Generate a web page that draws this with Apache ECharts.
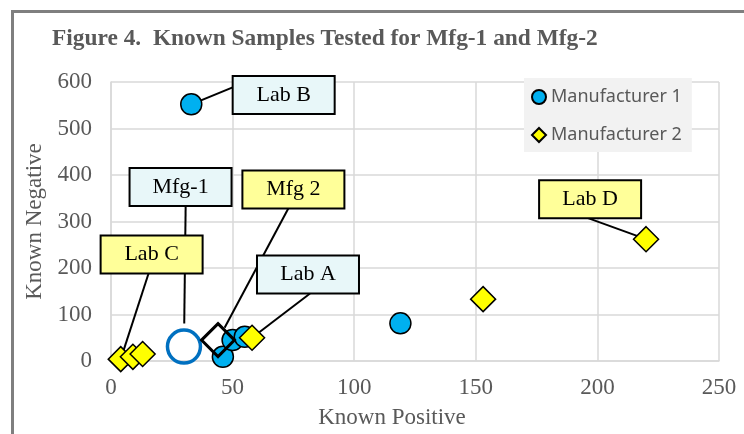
<!DOCTYPE html>
<html>
<head>
<meta charset="utf-8">
<script src="https://cdn.jsdelivr.net/npm/echarts@6/dist/echarts.min.js"></script>
<style>
html,body{margin:0;padding:0;background:#fff;}
#chart{width:744px;height:434px;}
</style>
</head>
<body>
<div id="chart"></div>
<script>
// ---- data ----
const titleText = 'Figure 4.  Known Samples Tested for Mfg-1 and Mfg-2';
const xName = 'Known Positive';
const yName = 'Known Negative';
const seriesNames = ['Manufacturer 1', 'Manufacturer 2'];
const mfg1Points = [[33, 552], [119, 81], [46, 9], [50, 45], [55, 52]];
const mfg2Points = [[4, 4], [9, 9], [13, 15], [58, 50], [153, 133], [220, 262]];
const mfg1Average = [[30, 31]];
const mfg2Average = [[44, 45]];
// callouts: label, box centre (data units), target point (data units)
const calloutLabels = ['Lab B', 'Mfg-1', 'Mfg 2', 'Lab C', 'Lab A', 'Lab D'];
const calloutBoxCentres = [[71, 572], [28.6, 374], [75, 369], [16.7, 229], [81, 186], [197, 348]];
const calloutTargets = [[33, 552], [30, 31], [44, 45], [4, 4], [58, 50], [220, 262]];

// ---- styles ----
const calloutFill = ['#E8F7F9', '#E8F7F9', '#FFFF99', '#FFFF99', '#E8F7F9', '#FFFF99'];
const calloutAnchor = [[0, 0.3], [0.55, 1], [0.45, 1], [0.47, 1], [0.52, 1], [0.48, 1]];
const calloutGap = [0, 23, 14, 0, 0, 0];
const serif = '"Liberation Serif", "Times New Roman", serif';
const grey = '#595959';

const chart = echarts.init(document.getElementById('chart'));
chart.setOption({
  animation: false,
  backgroundColor: '#fff',
  title: {
    text: titleText, left: 52, top: 27, padding: 0,
    textStyle: {fontFamily: serif, fontWeight: 'bold', fontSize: 23.4, color: grey}
  },
  legend: {
    orient: 'vertical', left: 524, top: 78,
    backgroundColor: '#F2F2F2',
    padding: [9, 10, 7, 7],
    itemWidth: 14, itemHeight: 14, itemGap: 18,
    textStyle: {fontFamily: '"Noto Sans", sans-serif', fontSize: 18, color: grey, lineHeight: 20},
    data: [{name: seriesNames[0], icon: 'circle'}, {name: seriesNames[1], icon: 'diamond'}]
  },
  grid: {left: 111, right: 25, top: 82, bottom: 73},
  xAxis: {
    type: 'value', min: 0, max: 250, interval: 50,
    name: xName, nameLocation: 'middle', nameGap: 45,
    nameTextStyle: {fontFamily: serif, fontSize: 23, color: grey, padding: [0, 46, 0, 0]},
    axisLine: {show: true, lineStyle: {color: '#D9D9D9', width: 1.5}},
    axisTick: {show: false},
    axisLabel: {fontFamily: serif, fontSize: 23, color: grey, margin: 15},
    splitLine: {show: true, lineStyle: {color: '#D9D9D9', width: 1.5}}
  },
  yAxis: {
    type: 'value', min: 0, max: 600, interval: 100,
    name: yName, nameLocation: 'middle', nameGap: 57, nameRotate: 90,
    nameTextStyle: {fontFamily: serif, fontSize: 23, color: grey},
    axisLine: {show: true, lineStyle: {color: '#D9D9D9', width: 1.5}},
    axisTick: {show: false},
    axisLabel: {fontFamily: serif, fontSize: 23, color: grey, margin: 19},
    splitLine: {show: true, lineStyle: {color: '#D9D9D9', width: 1.5}}
  },
  series: [
    {
      name: seriesNames[0], type: 'scatter', data: mfg1Points, symbol: 'circle', symbolSize: 21, z: 3,
      itemStyle: {color: '#00B0F0', borderColor: '#000', borderWidth: 1.5, opacity: 1}
    },
    {
      name: seriesNames[1], type: 'scatter', data: mfg2Points, symbol: 'diamond', symbolSize: 25, z: 4,
      itemStyle: {color: '#FFFF00', borderColor: '#000', borderWidth: 1.5, opacity: 1}
    },
    {
      name: 'Mfg-1 average', type: 'scatter', data: mfg1Average, symbol: 'circle', symbolSize: 33, z: 5,
      itemStyle: {color: 'rgba(0,0,0,0)', borderColor: '#0070C0', borderWidth: 3.5, opacity: 1}
    },
    {
      name: 'Mfg 2 average', type: 'scatter', data: mfg2Average, symbol: 'diamond', symbolSize: 33, z: 5,
      itemStyle: {color: 'rgba(0,0,0,0)', borderColor: '#000', borderWidth: 3, opacity: 1}
    }
  ]
});

// callout boxes and leader lines, placed through the axes
const boxW = 102, boxH = 38;
const graphics = [{
  type: 'rect', left: 10, top: 9, z: 0, silent: true,
  shape: {width: 800, height: 500},
  style: {fill: 'none', stroke: '#7F7F7F', lineWidth: 3}
}];
calloutLabels.forEach((label, i) => {
  const c = chart.convertToPixel({xAxisIndex: 0, yAxisIndex: 0}, calloutBoxCentres[i]);
  const t = chart.convertToPixel({xAxisIndex: 0, yAxisIndex: 0}, calloutTargets[i]);
  const bx = c[0] - boxW / 2, by = c[1] - boxH / 2;
  const sx = bx + calloutAnchor[i][0] * boxW, sy = by + calloutAnchor[i][1] * boxH;
  const dx = t[0] - sx, dy = t[1] - sy, len = Math.hypot(dx, dy);
  const ex = t[0] - dx / len * calloutGap[i], ey = t[1] - dy / len * calloutGap[i];
  graphics.push({
    type: 'line', z: 1, silent: true,
    shape: {x1: sx, y1: sy, x2: ex, y2: ey},
    style: {stroke: '#000', lineWidth: 2}
  });
  graphics.push({
    type: 'rect', z: 10, silent: true,
    shape: {x: bx, y: by, width: boxW, height: boxH},
    style: {fill: calloutFill[i], stroke: '#000', lineWidth: 2}
  });
  graphics.push({
    type: 'text', z: 11, silent: true,
    style: {text: label, x: c[0], y: c[1], align: 'center', verticalAlign: 'middle',
            font: '22px ' + serif, fill: '#000'}
  });
});
chart.setOption({graphic: graphics});
</script>
</body>
</html>
